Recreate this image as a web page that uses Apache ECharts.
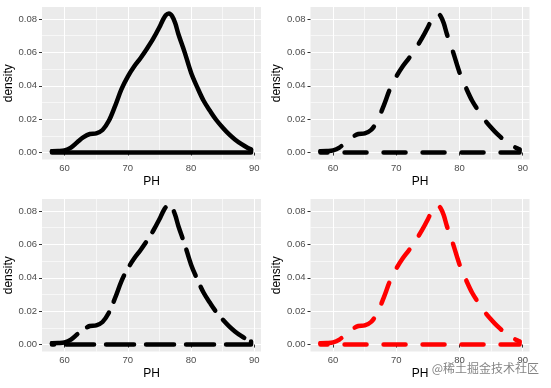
<!DOCTYPE html>
<html>
<head>
<meta charset="utf-8">
<script src="https://cdn.jsdelivr.net/npm/echarts@6/dist/echarts.min.js"></script>
<style>html,body{margin:0;padding:0;background:#fff;}#c{width:551px;height:388px;}</style>
</head>
<body>
<div id="c"></div>
<script>
// Density curve of PH
const phX = [58, 59, 60, 61, 62, 63, 64, 65, 66, 67, 68, 69, 70, 71, 72, 73, 74, 75, 75.5, 76, 76.5, 77, 77.5, 78, 79, 80, 81, 82, 83, 84, 85, 86, 87, 88, 89, 89.5];
const density = [0.0008, 0.0009, 0.0013, 0.003, 0.0062, 0.0092, 0.0111, 0.0115, 0.0135, 0.019, 0.028, 0.038, 0.0455, 0.0515, 0.0565, 0.062, 0.068, 0.075, 0.079, 0.0822, 0.0833, 0.0818, 0.0775, 0.071, 0.060, 0.048, 0.039, 0.031, 0.025, 0.0195, 0.015, 0.011, 0.0077, 0.005, 0.0027, 0.0018];
const xTicks = [60, 70, 80, 90];
const xMinor = [65, 75, 85];
const yTicks = [0, 0.02, 0.04, 0.06, 0.08];
const yMinor = [0.01, 0.03, 0.05, 0.07];
const panelColors = ['#000000', '#000000', '#000000', '#ff0000'];
const panelDash = ['solid', [22, 17], [28, 12], [22, 17]];

// upper curve, and the baseline closing the polygon
const curve = phX.map((x, i) => [x, density[i]]);
const baseline = [[phX[phX.length - 1], density[density.length - 1]], [phX[phX.length - 1], 0], [phX[0], 0], [phX[0], density[0]]];

const xMin = 56.425, xMax = 91.075, yMin = -0.00415, yMax = 0.08715;
const font = 'Liberation Sans, Arial, sans-serif';
const grids = [
  {left: 42, top: 7, width: 219, height: 152.5},
  {left: 310.5, top: 7, width: 219, height: 152.5},
  {left: 42, top: 199, width: 219, height: 152.5},
  {left: 310.5, top: 199, width: 219, height: 152.5}
].map(g => Object.assign({show: true, backgroundColor: '#EBEBEB', borderWidth: 0, containLabel: false}, g));

const xAxis = [], yAxis = [], series = [];
for (let i = 0; i < 4; i++) {
  // minor axes (grid lines only)
  xAxis.push({type: 'value', gridIndex: i, position: 'bottom', min: xMin, max: xMax,
    axisLine: {show: false}, axisLabel: {show: false, customValues: xMinor},
    axisTick: {show: false, customValues: xMinor},
    splitLine: {show: true, lineStyle: {color: '#ffffff', width: 0.6}}});
  yAxis.push({type: 'value', gridIndex: i, position: 'left', min: yMin, max: yMax,
    axisLine: {show: false}, axisLabel: {show: false, customValues: yMinor},
    axisTick: {show: false, customValues: yMinor},
    splitLine: {show: true, lineStyle: {color: '#ffffff', width: 0.6}}});
}
for (let i = 0; i < 4; i++) {
  xAxis.push({type: 'value', gridIndex: i, position: 'bottom', offset: 0, min: xMin, max: xMax,
    name: 'PH', nameLocation: 'middle', nameGap: 16,
    nameTextStyle: {color: '#000', fontSize: 12, fontFamily: font},
    axisLine: {show: false},
    axisTick: {show: true, length: 3, customValues: xTicks, lineStyle: {color: '#333333', width: 1}},
    axisLabel: {show: true, customValues: xTicks, margin: 4, color: '#4D4D4D', fontSize: 9.5, fontFamily: font},
    splitLine: {show: true, lineStyle: {color: '#ffffff', width: 1.1}}});
  yAxis.push({type: 'value', gridIndex: i, position: 'left', offset: 0, min: yMin, max: yMax,
    name: 'density', nameLocation: 'middle', nameGap: 25,
    nameTextStyle: {color: '#000', fontSize: 12, fontFamily: font},
    axisLine: {show: false},
    axisTick: {show: true, length: 3, customValues: yTicks, lineStyle: {color: '#333333', width: 1}},
    axisLabel: {show: true, customValues: yTicks, margin: 5, color: '#4D4D4D', fontSize: 9.5, fontFamily: font,
      formatter: v => Number(v).toFixed(2)},
    splitLine: {show: true, lineStyle: {color: '#ffffff', width: 1.1}}});
  const ls = {color: panelColors[i], width: 4.5, type: panelDash[i], cap: 'round', join: 'round'};
  series.push({type: 'line', xAxisIndex: 4 + i, yAxisIndex: 4 + i, data: baseline,
    showSymbol: false, symbol: 'none', smooth: false, silent: true, animation: false, lineStyle: ls});
  series.push({type: 'line', xAxisIndex: 4 + i, yAxisIndex: 4 + i, data: curve,
    showSymbol: false, symbol: 'none', smooth: 0.35, silent: true, animation: false, lineStyle: ls});
}

const chart = echarts.init(document.getElementById('c'), null, {renderer: 'canvas'});
chart.setOption({
  animation: false,
  backgroundColor: '#ffffff',
  grid: grids,
  xAxis: xAxis,
  yAxis: yAxis,
  series: series,
  graphic: [{type: 'text', right: 12, top: 362,
    style: {text: '@稀土掘金技术社区', fill: 'rgba(110,110,110,0.85)', fontSize: 12,
      fontFamily: 'Noto Sans CJK SC, sans-serif'}}]
});
</script>
</body>
</html>
